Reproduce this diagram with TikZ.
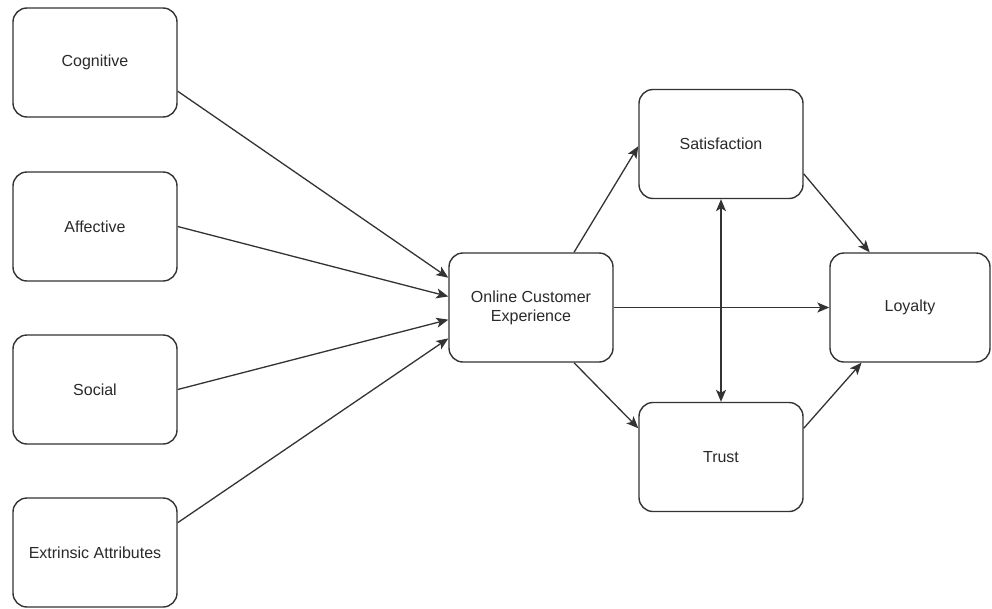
\documentclass[tikz,border=0pt]{standalone}
\usepackage{fontspec}
\setmainfont{Liberation Sans}
\usetikzlibrary{arrows.meta,calc}
\definecolor{edgecol}{HTML}{333333}
\definecolor{txtcol}{HTML}{2A2A2A}
\begin{document}
\begin{tikzpicture}[x=1pt,y=-1pt,
  box/.style={draw=edgecol, line width=1.4pt, rounded corners=14pt, fill=white,
    minimum width=164pt, minimum height=109pt, inner sep=2pt, align=center,
    text=txtcol, font=\fontsize{16}{19}\selectfont},
  tip/.style={Stealth[length=12pt,width=10pt,inset=3pt]},
  link/.style={draw=edgecol, line width=1.3pt, -{Stealth[length=12pt,width=10pt,inset=3pt]}},
  dlink/.style={draw=edgecol, line width=1.3pt, {Stealth[length=12pt,width=10pt,inset=3pt]}-{Stealth[length=12pt,width=10pt,inset=3pt]}}]
\useasboundingbox (0,0) rectangle (992,608);
\fill[white] (0,0) rectangle (992,608);
\node[box] (cog) at (95,62.5) {Cognitive};
\node[box] (aff) at (95,226.5) {Affective};
\node[box] (soc) at (95,389.5) {Social};
\node[box] (ext) at (95,552.5) {Extrinsic Attributes};
\node[box] (oce) at (531,307.5) {Online Customer\\Experience};
\node[box] (sat) at (721,144) {Satisfaction};
\node[box] (tru) at (721,457) {Trust};
\node[box, minimum width=160pt] (loy) at (910,307.5) {Loyalty};
% inputs to OCE
\draw[link] ($(cog.north east)!0.76!(cog.south east)$) -- ($(oce.north west)!0.23!(oce.south west)$);
\draw[link] (aff.east) -- ($(oce.north west)!0.40!(oce.south west)$);
\draw[link] (soc.east) -- ($(oce.north west)!0.61!(oce.south west)$);
\draw[link] ($(ext.north east)!0.23!(ext.south east)$) -- ($(oce.north west)!0.78!(oce.south west)$);
% OCE outputs
\draw[link] ($(oce.north west)!0.76!(oce.north east)$) -- ($(sat.north west)!0.52!(sat.south west)$);
\draw[link] ($(oce.south west)!0.76!(oce.south east)$) -- ($(tru.north west)!0.24!(tru.south west)$);
\draw[link] (oce.east) -- (loy.west);
% to loyalty
\draw[link] ($(sat.north east)!0.77!(sat.south east)$) -- ($(loy.north west)!0.25!(loy.north east)$);
\draw[link] ($(tru.north east)!0.24!(tru.south east)$) -- ($(loy.south west)!0.2!(loy.south east)$);
% satisfaction <-> trust
\draw[dlink] (sat.south) -- (tru.north);
\end{tikzpicture}
\end{document}
